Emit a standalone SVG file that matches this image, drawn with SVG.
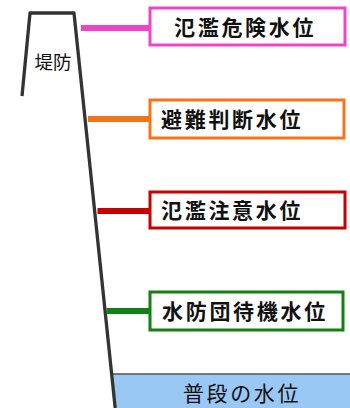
<svg xmlns="http://www.w3.org/2000/svg" width="350" height="408" viewBox="0 0 350 408">
<style>
.dike{fill:none;stroke:#333;stroke-width:3.3;stroke-linejoin:round}
.box{fill:#fff;stroke-width:3}
.lbl{font-family:"Noto Sans CJK JP","Noto Sans",sans-serif;font-size:21px;font-weight:bold;fill:#111;letter-spacing:2.7px}
.conn{stroke-width:6}
</style>
<rect width="350" height="408" fill="#fff"/>
<g id="water">
<polygon points="111.5,374 350,374 350,408 115.2,408" fill="#99c8f4"/>
<line x1="111.5" y1="374" x2="350" y2="374" stroke="#555" stroke-width="1.5"/>
<text x="242" y="400.5" text-anchor="middle" style="font-family:'Noto Sans CJK JP','Noto Sans',sans-serif;font-size:21px;fill:#111;letter-spacing:2.6px">普段の水位</text>
</g>
<g id="dike">
<polyline class="dike" points="22,96 30,13 74,13 115.2,408"/>
<text x="53" y="68.5" text-anchor="middle" style="font-family:'Noto Sans CJK JP','Noto Sans',sans-serif;font-size:18.5px;fill:#111">堤防</text>
</g>
<g id="connectors">
<line class="conn" x1="81" y1="28" x2="150" y2="28" stroke="#ee44cc"/>
<line class="conn" x1="88" y1="119" x2="150" y2="119" stroke="#f5731a"/>
<line class="conn" x1="97.5" y1="211" x2="150" y2="211" stroke="#c80000"/>
<line class="conn" x1="106.5" y1="311" x2="150" y2="311" stroke="#128012"/>
</g>
<g id="n1">
<rect class="box" x="150" y="8" width="195" height="37" stroke="#ee44cc"/>
<text class="lbl" x="174" y="35">氾濫危険水位</text>
</g>
<g id="n2">
<rect class="box" x="150" y="100" width="194" height="38" stroke="#f5731a"/>
<text class="lbl" x="161" y="127">避難判断水位</text>
</g>
<g id="n3">
<rect class="box" x="150" y="192" width="195" height="36" stroke="#c80000"/>
<text class="lbl" x="161" y="218">氾濫注意水位</text>
</g>
<g id="n4">
<rect class="box" x="150" y="292" width="193" height="38" stroke="#128012"/>
<text class="lbl" x="162" y="319">水防団待機水位</text>
</g>
</svg>
